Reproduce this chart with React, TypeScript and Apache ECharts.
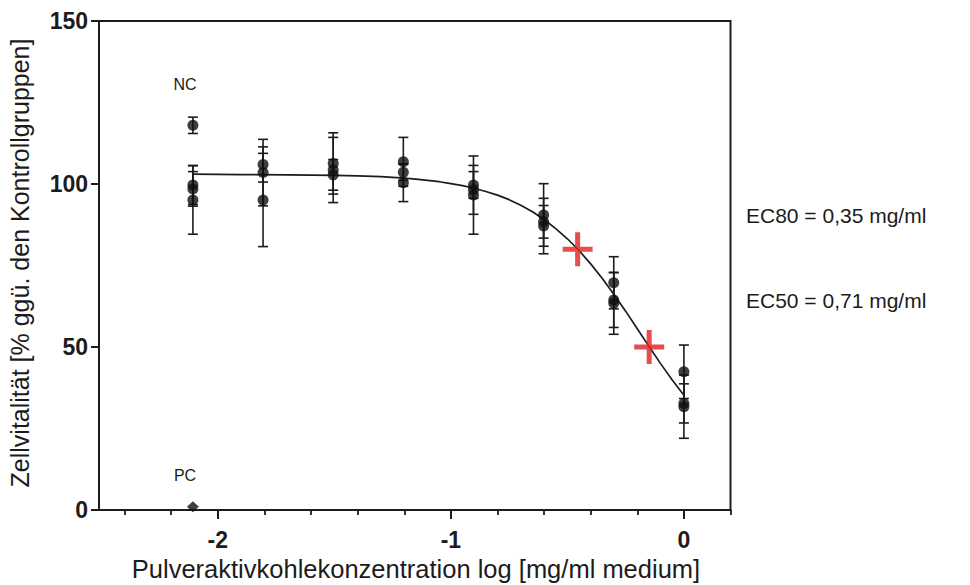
import React, { useEffect, useRef } from "react";
import * as echarts from "echarts";

// log10 concentration [mg/ml]
const logDose = [-2.107, -1.806, -1.505, -1.204, -0.903, -0.602, -0.301, 0];
// three replicate experiments (mean ± SD), % of control
const rep1 = [99.7, 106.0, 106.3, 106.8, 99.7, 90.5, 69.7, 42.4];
const rep2 = [98.5, 103.5, 104.3, 103.6, 98.2, 88.4, 64.4, 32.7];
const rep3 = [95.1, 95.1, 102.8, 100.4, 96.6, 87.1, 63.4, 31.7];
const sd1 = [6.0, 5.4, 9.4, 7.5, 4.1, 9.6, 8.0, 8.2];
const sd2 = [5.3, 10.2, 10.0, 2.5, 7.5, 5.0, 8.4, 6.0];
const sd3 = [10.5, 14.3, 4.7, 5.8, 12.0, 8.5, 9.5, 9.7];

// controls
const ncPoint = { x: -2.107, y: 118.0, sd: 2.5 };
const pcPoint = { x: -2.107, y: 1.0 };

// fitted curve
const curveX = [
  -2.107, -1.9, -1.7, -1.5, -1.4, -1.3, -1.2, -1.15, -1.1, -1.05, -1.0, -0.95, -0.9, -0.85, -0.8, -0.75,
  -0.7, -0.65, -0.6, -0.55, -0.5, -0.45, -0.4, -0.35, -0.3, -0.25, -0.2, -0.15, -0.1, -0.05, 0,
];
const curveY = [
  103.0, 102.9, 102.8, 102.65, 102.5, 102.25, 101.8, 101.5, 101.1, 100.7, 100.1, 99.5, 98.7, 97.7, 96.6, 95.2,
  93.5, 91.5, 89.1, 86.3, 83.2, 79.6, 75.5, 71.0, 66.1, 61.0, 55.6, 50.2, 44.9, 39.9, 35.2,
];

// EC markers
const ecLog = [-0.456, -0.149];
const ecVal = [80, 50];
const ecTexts = ["EC80 = 0,35 mg/ml", "EC50 = 0,71 mg/ml"];

// axis ticks
const xMajorTicks = [-2, -1, 0];
const xMinorTicks = [-2.4, -2.2, -1.8, -1.6, -1.4, -1.2, -0.8, -0.6, -0.4, -0.2, 0.2];
const yTicks = [0, 50, 100, 150];

const xTitle = "Pulveraktivkohlekonzentration log [mg/ml medium]";
const yTitle = "Zellvitalität [% ggü. den Kontrollgruppen]";

const INK = "#1c1c1c";
const FONT = "'Liberation Sans', Arial, sans-serif";

export default function App() {
  const ref = useRef<HTMLDivElement>(null);

  useEffect(() => {
    if (!ref.current) return;
    const chart = echarts.init(ref.current, null, { renderer: "svg" });

    const points: number[][] = [];
    const bars: number[][] = [];
    [
      [rep1, sd1],
      [rep2, sd2],
      [rep3, sd3],
    ].forEach(([vals, sds]) => {
      vals.forEach((v, i) => {
        points.push([logDose[i], v]);
        bars.push([logDose[i], v - sds[i], v + sds[i]]);
      });
    });
    points.push([ncPoint.x, ncPoint.y]);
    bars.push([ncPoint.x, ncPoint.y - ncPoint.sd, ncPoint.y + ncPoint.sd]);

    const curve = curveX.map((x, i) => [x, curveY[i]]);
    const ecData = ecLog.map((x, i) => [x, ecVal[i]]);

    const option: any = {
      animation: false,
      backgroundColor: "#ffffff",
      grid: {
        left: 99,
        right: 239.5,
        top: 21,
        bottom: 75,
        show: true,
        borderColor: INK,
        borderWidth: 2,
        backgroundColor: "transparent",
      },
      xAxis: [
        {
          type: "value",
          min: -2.51,
          max: 0.2,
          position: "bottom",
          axisLine: { show: true, onZero: false, lineStyle: { color: INK, width: 2 } },
          axisTick: {
            show: true,
            inside: false,
            length: 9,
            customValues: xMajorTicks,
            lineStyle: { color: INK, width: 2 },
          },
          axisLabel: {
            show: true,
            customValues: xMajorTicks,
            margin: 18,
            fontSize: 23,
            fontWeight: "bold",
            color: INK,
            fontFamily: FONT,
            formatter: (v: number) => String(Math.round(v)),
          },
          splitLine: { show: false },
        },
        {
          type: "value",
          min: -2.51,
          max: 0.2,
          position: "bottom",
          axisLine: { show: false, onZero: false },
          axisTick: {
            show: true,
            inside: false,
            length: 5,
            customValues: xMinorTicks,
            lineStyle: { color: INK, width: 1.8 },
          },
          axisLabel: { show: false },
          splitLine: { show: false },
        },
      ],
      yAxis: {
        type: "value",
        min: 0,
        max: 150,
        interval: 50,
        axisLine: { show: true, onZero: false, lineStyle: { color: INK, width: 2 } },
        axisTick: { show: true, inside: false, length: 8, customValues: yTicks, lineStyle: { color: INK, width: 2 } },
        axisLabel: {
          margin: 11,
          fontSize: 23,
          fontWeight: "bold",
          color: INK,
          fontFamily: FONT,
        },
        splitLine: { show: false },
      },
      series: [
        {
          type: "line",
          xAxisIndex: 0,
          data: curve,
          smooth: false,
          showSymbol: false,
          symbol: "none",
          lineStyle: { color: INK, width: 1.7 },
          z: 2,
        },
        {
          type: "custom",
          xAxisIndex: 0,
          data: bars,
          encode: { x: 0, y: [1, 2] },
          renderItem: (params: any, api: any) => {
            const x = api.value(0);
            const lo = api.coord([x, api.value(1)]);
            const hi = api.coord([x, api.value(2)]);
            const hw = 5;
            const st = { stroke: INK, lineWidth: 1.6 };
            return {
              type: "group",
              children: [
                { type: "line", shape: { x1: lo[0], y1: lo[1], x2: hi[0], y2: hi[1] }, style: st },
                { type: "line", shape: { x1: lo[0] - hw, y1: lo[1], x2: lo[0] + hw, y2: lo[1] }, style: st },
                { type: "line", shape: { x1: hi[0] - hw, y1: hi[1], x2: hi[0] + hw, y2: hi[1] }, style: st },
              ],
            };
          },
          z: 3,
        },
        {
          type: "scatter",
          xAxisIndex: 0,
          data: points,
          symbol: "circle",
          symbolSize: 11,
          itemStyle: { color: "#0f0f0f" },
          z: 4,
        },
        {
          type: "scatter",
          xAxisIndex: 0,
          data: [[pcPoint.x, pcPoint.y]],
          symbol: "diamond",
          symbolSize: [12, 11],
          itemStyle: { color: "#0f0f0f" },
          z: 4,
        },
        {
          type: "scatter",
          xAxisIndex: 0,
          data: ecData,
          symbol: "path://M12.5,0H17.5V34H12.5Z M0,14.5H30V19.5H0Z",
          symbolSize: [30, 34],
          itemStyle: { color: "#e0201f" },
          z: 5,
        },
      ],
      graphic: [
        {
          type: "text",
          x: 20,
          y: 263,
          rotation: Math.PI / 2,
          style: {
            text: yTitle,
            fontSize: 25,
            fontFamily: FONT,
            fill: INK,
            align: "center",
            verticalAlign: "middle",
          },
        },
        {
          type: "text",
          x: 416,
          y: 569,
          style: {
            text: xTitle,
            fontSize: 25.5,
            fontFamily: FONT,
            fill: INK,
            align: "center",
            verticalAlign: "middle",
          },
        },
        ...ecTexts.map((t, i) => ({
          type: "text",
          x: 746,
          y: i === 0 ? 215 : 300,
          style: {
            text: t,
            fontSize: 21,
            fontFamily: FONT,
            fill: INK,
            align: "left",
            verticalAlign: "middle",
          },
        })),
        {
          type: "text",
          x: 185,
          y: 84,
          style: { text: "NC", fontSize: 16, fontFamily: FONT, fill: INK, align: "center", verticalAlign: "middle" },
        },
        {
          type: "text",
          x: 185,
          y: 475,
          style: { text: "PC", fontSize: 16, fontFamily: FONT, fill: INK, align: "center", verticalAlign: "middle" },
        },
      ],
    };

    chart.setOption(option);
    return () => chart.dispose();
  }, []);

  return <div ref={ref} style={{ width: 970, height: 585, position: "absolute", left: 0, top: 0 }} />;
}
